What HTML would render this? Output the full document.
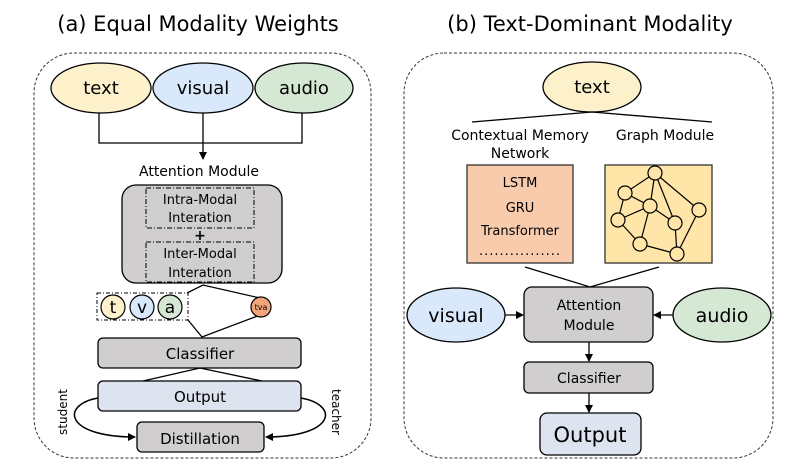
<!DOCTYPE html>
<html><head><meta charset="utf-8"><style>
html,body{margin:0;padding:0;background:#fff;}
svg{display:block;font-family:"DejaVu Sans","Liberation Sans",sans-serif;}
</style></head><body>
<svg width="797" height="463" viewBox="0 0 797 463" xmlns="http://www.w3.org/2000/svg">
<defs><marker id="ar" markerWidth="8" markerHeight="8" refX="7" refY="4" orient="auto" markerUnits="userSpaceOnUse"><path d="M0,0 L8,4 L0,8 z" fill="#000"/></marker></defs>
<g fill="#000">
<text x="198" y="31" font-size="21" text-anchor="middle">(a) Equal Modality Weights</text>
<text x="590" y="31" font-size="21" text-anchor="middle">(b) Text-Dominant Modality</text>
</g>
<rect x="34" y="53" width="337" height="405" rx="40" fill="none" stroke="#333" stroke-width="1" stroke-dasharray="3,2"/>
<rect x="404" y="53" width="369" height="405" rx="40" fill="none" stroke="#333" stroke-width="1" stroke-dasharray="3,2"/>
<g stroke="#000" stroke-width="1.3">
<ellipse cx="101" cy="88" rx="50" ry="25" fill="#fdf1cc"/>
<ellipse cx="203" cy="88" rx="50" ry="25" fill="#dae8fc"/>
<ellipse cx="304" cy="88" rx="49" ry="25" fill="#d5e8d4"/>
<polyline points="99,113 99,143 302,143 302,113" fill="none"/>
<line x1="203" y1="113" x2="203" y2="159" marker-end="url(#ar)"/>
</g>
<g font-size="18" text-anchor="middle" fill="#000">
<text x="101" y="94">text</text><text x="203" y="94">visual</text><text x="304" y="94">audio</text>
</g>
<text x="199" y="176" font-size="14" text-anchor="middle">Attention Module</text>
<rect x="122" y="185" width="160" height="98" rx="14" fill="#d0cece" stroke="#000" stroke-width="1.3"/>
<g fill="none" stroke="#000" stroke-width="1" stroke-dasharray="5,2,1,2">
<rect x="146" y="188" width="108" height="40"/>
<rect x="146" y="242" width="108" height="40"/>
</g>
<g font-size="13" text-anchor="middle" fill="#000">
<text x="200" y="204">Intra-Modal</text><text x="200" y="222">Interation</text>
<text x="200" y="240" font-weight="bold" font-size="14">+</text>
<text x="200" y="258">Inter-Modal</text><text x="200" y="277">Interation</text>
</g>
<g stroke="#000" stroke-width="1.3" fill="none">
<polyline points="187,293 203,285 260,298"/>
<polyline points="188,320 202,337 260,315"/>
</g>
<rect x="97" y="293" width="91" height="27" fill="none" stroke="#000" stroke-dasharray="4,2,1,2"/>
<g stroke="#000" stroke-width="1.2">
<circle cx="113" cy="307" r="12" fill="#fdf1cc"/>
<circle cx="142" cy="307" r="12" fill="#dae8fc"/>
<circle cx="170" cy="307" r="12" fill="#d5e8d4"/>
<circle cx="261" cy="307" r="10" fill="#f4a47a"/>
</g>
<g text-anchor="middle" fill="#000">
<text x="113" y="313" font-size="17">t</text><text x="142" y="313" font-size="17">v</text><text x="170" y="313" font-size="17">a</text>
<text x="261" y="310" font-size="8">tva</text>
</g>
<rect x="98" y="338" width="203" height="30" rx="5" fill="#d0cece" stroke="#000" stroke-width="1.3"/>
<text x="200" y="359" font-size="15" text-anchor="middle">Classifier</text>
<polyline points="143,381 200,368 262,381" fill="none" stroke="#000" stroke-width="1.3"/>
<rect x="98" y="381" width="203" height="30" rx="5" fill="#dee4ef" stroke="#000" stroke-width="1.3"/>
<text x="200" y="402" font-size="15" text-anchor="middle">Output</text>
<rect x="137" y="422" width="127" height="30" rx="5" fill="#d0cece" stroke="#000" stroke-width="1.3"/>
<text x="200" y="444" font-size="15" text-anchor="middle">Distillation</text>
<g fill="none" stroke="#000" stroke-width="1.5">
<path d="M98,398 C60,405 65,437 135,437" marker-end="url(#ar)"/>
<path d="M301,398 C340,405 335,437 266,437" marker-end="url(#ar)"/>
</g>
<text transform="translate(67,412) rotate(-90)" font-size="12" text-anchor="middle">student</text>
<text transform="translate(332,412) rotate(90)" font-size="12" text-anchor="middle">teacher</text>

<ellipse cx="592" cy="87" rx="49" ry="25" fill="#fdf1cc" stroke="#000" stroke-width="1.3"/>
<text x="592" y="93" font-size="18" text-anchor="middle">text</text>
<polyline points="472,122 592,112 712,122" fill="none" stroke="#000" stroke-width="1.3"/>
<g font-size="14" text-anchor="middle" fill="#000">
<text x="520" y="140">Contextual Memory</text><text x="520" y="158">Network</text>
<text x="665" y="140">Graph Module</text>
</g>
<rect x="467" y="165" width="106" height="98" fill="#f8cbad" stroke="#333" stroke-width="1.3"/>
<g font-size="13" text-anchor="middle" fill="#000">
<text x="520" y="187">LSTM</text><text x="520" y="212">GRU</text><text x="520" y="235">Transformer</text>
<text x="520" y="255" letter-spacing="1">................</text>
</g>
<rect x="605" y="165" width="107" height="98" fill="#ffe6a8" stroke="#333" stroke-width="1.3"/>
<g stroke="#000" stroke-width="1.2">
<line x1="655" y1="173" x2="625" y2="193"/><line x1="625" y1="193" x2="650" y2="206"/>
<line x1="655" y1="173" x2="650" y2="206"/><line x1="655" y1="173" x2="675" y2="223"/>
<line x1="655" y1="173" x2="699" y2="210"/><line x1="625" y1="193" x2="618" y2="220"/>
<line x1="618" y1="220" x2="640" y2="244"/><line x1="650" y1="206" x2="640" y2="244"/>
<line x1="650" y1="206" x2="675" y2="223"/><line x1="675" y1="223" x2="677" y2="254"/>
<line x1="699" y1="210" x2="677" y2="254"/><line x1="640" y1="244" x2="677" y2="254"/>
<line x1="650" y1="206" x2="618" y2="220"/>
<g fill="#ffe6a8">
<circle cx="655" cy="173" r="7"/><circle cx="625" cy="193" r="7"/><circle cx="650" cy="206" r="7"/>
<circle cx="618" cy="220" r="7"/><circle cx="699" cy="210" r="7"/><circle cx="675" cy="223" r="7"/>
<circle cx="640" cy="244" r="7"/><circle cx="677" cy="254" r="7"/>
</g>
</g>
<polyline points="525,267 590,287 659,267" fill="none" stroke="#000" stroke-width="1.3"/>
<rect x="524" y="287" width="129" height="55" rx="8" fill="#d0cece" stroke="#000" stroke-width="1.3"/>
<text x="589" y="310" font-size="14" text-anchor="middle">Attention</text>
<text x="589" y="330" font-size="14" text-anchor="middle">Module</text>
<ellipse cx="456" cy="315" rx="49" ry="27" fill="#dae8fc" stroke="#000" stroke-width="1.3"/>
<text x="456" y="322" font-size="19" text-anchor="middle">visual</text>
<ellipse cx="722" cy="315" rx="49" ry="27" fill="#d5e8d4" stroke="#000" stroke-width="1.3"/>
<text x="722" y="322" font-size="19" text-anchor="middle">audio</text>
<g stroke="#000" stroke-width="1.3">
<line x1="505" y1="315" x2="523" y2="315" marker-end="url(#ar)"/>
<line x1="673" y1="315" x2="654" y2="315" marker-end="url(#ar)"/>
<line x1="589" y1="342" x2="589" y2="361" marker-end="url(#ar)"/>
<line x1="589" y1="393" x2="589" y2="412" marker-end="url(#ar)"/>
</g>
<rect x="524" y="362" width="129" height="31" rx="5" fill="#d0cece" stroke="#000" stroke-width="1.3"/>
<text x="589" y="383" font-size="14" text-anchor="middle">Classifier</text>
<rect x="540" y="413" width="101" height="42" rx="7" fill="#dee4ef" stroke="#000" stroke-width="1.3"/>
<text x="590" y="442" font-size="21" text-anchor="middle">Output</text>
</svg>
</body></html>
